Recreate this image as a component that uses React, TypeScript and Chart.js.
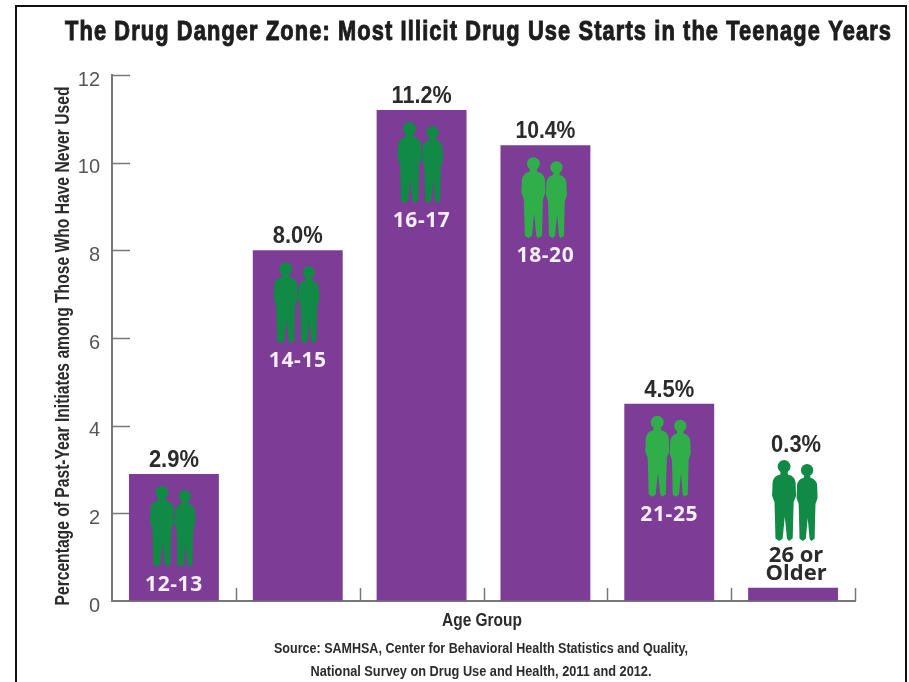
import React, { useEffect, useRef } from "react";
import { Chart, registerables } from "chart.js";
Chart.register(...registerables);

const categories = ["12-13", "14-15", "16-17", "18-20", "21-25", "26 or Older"];
const values = [2.9, 8.0, 11.2, 10.4, 4.5, 0.3];
const valueLabels = ["2.9%", "8.0%", "11.2%", "10.4%", "4.5%", "0.3%"];
const iconColors = ["#108a45", "#108a45", "#108a45", "#2fae4a", "#2fae4a", "#108a45"];
const title = "The Drug Danger Zone: Most Illicit Drug Use Starts in the Teenage Years";
const yTitle = "Percentage of Past-Year Initiates among Those Who Have Never Used";
const xTitle = "Age Group";
const source = ["Source: SAMHSA, Center for Behavioral Health Statistics and Quality,", "National Survey on Drug Use and Health, 2011 and 2012."];
const PURPLE = "#7d3c96";
const AXIS = "#777777";
const INK = "#2b2b2b";
const NARROW = '"Liberation Sans Narrow", "Liberation Sans", sans-serif';
const WIDE = '"Open Sans", "Liberation Sans", sans-serif';

function person(ctx: CanvasRenderingContext2D, cx: number, top: number, w: number, h: number) {
  const X = (v: number) => cx + v * w;
  const Y = (v: number) => top + v * h;
  ctx.beginPath();
  ctx.arc(cx, Y(0.08), h * 0.08, 0, Math.PI * 2);
  ctx.fill();
  ctx.beginPath();
  ctx.moveTo(X(-0.14), Y(0.13));
  ctx.lineTo(X(0.14), Y(0.13));
  ctx.lineTo(X(0.16), Y(0.18));
  ctx.quadraticCurveTo(X(0.45), Y(0.2), X(0.48), Y(0.28));
  ctx.lineTo(X(0.5), Y(0.44));
  ctx.lineTo(X(0.4), Y(0.52));
  ctx.lineTo(X(0.38), Y(0.72));
  ctx.lineTo(X(0.36), Y(0.97));
  ctx.lineTo(X(0.2), Y(1));
  ctx.lineTo(X(0.12), Y(0.97));
  ctx.lineTo(X(0.03), Y(0.7));
  ctx.lineTo(X(-0.06), Y(0.97));
  ctx.lineTo(X(-0.2), Y(1));
  ctx.lineTo(X(-0.36), Y(0.97));
  ctx.lineTo(X(-0.38), Y(0.72));
  ctx.lineTo(X(-0.4), Y(0.52));
  ctx.lineTo(X(-0.5), Y(0.44));
  ctx.lineTo(X(-0.48), Y(0.28));
  ctx.quadraticCurveTo(X(-0.45), Y(0.2), X(-0.16), Y(0.18));
  ctx.closePath();
  ctx.fill();
}

const overlay = {
  id: "overlay",
  beforeDatasetsDraw(chart: any) {
    const { ctx, scales, chartArea } = chart;
    ctx.save();
    ctx.strokeStyle = AXIS;
    ctx.lineWidth = 1.5;
    scales.y.ticks.forEach((t: any) => {
      if (t.value === 0) return;
      const py = Math.round(scales.y.getPixelForValue(t.value)) + 0.5;
      ctx.beginPath();
      ctx.moveTo(chartArea.left, py);
      ctx.lineTo(chartArea.left + 18, py);
      ctx.stroke();
    });
    ctx.restore();
  },
  afterDatasetsDraw(chart: any) {
    const { ctx, chartArea } = chart;
    const meta = chart.getDatasetMeta(0);
    ctx.save();
    ctx.textAlign = "center";
    ctx.textBaseline = "alphabetic";

    // page frame
    ctx.strokeStyle = "#111";
    ctx.lineWidth = 2;
    ctx.beginPath();
    ctx.moveTo(16, 682);
    ctx.lineTo(16, 6);
    ctx.lineTo(906, 6);
    ctx.lineTo(906, 682);
    ctx.stroke();

    // heading
    ctx.fillStyle = "#1d1d1d";
    ctx.strokeStyle = "#1d1d1d";
    ctx.lineWidth = 1;
    ctx.font = `700 27px ${NARROW}`;
    (ctx as any).letterSpacing = "1.4px";
    ctx.fillText(title, 478.5, 40, 827);
    ctx.strokeText(title, 478.5, 40, 827);
    (ctx as any).letterSpacing = "0px";

    // rotated axis title
    ctx.save();
    ctx.translate(69, 346);
    ctx.rotate(-Math.PI / 2);
    ctx.font = `700 20px ${NARROW}`;
    ctx.fillStyle = INK;
    ctx.fillText(yTitle, 0, 0, 519);
    ctx.restore();

    meta.data.forEach((bar: any, i: number) => {
      const x = bar.x;
      const last = i === categories.length - 1;
      const shift = last ? 3 : 0;
      ctx.fillStyle = INK;
      ctx.font = `700 23px ${NARROW}`;
      ctx.fillText(valueLabels[i], x + shift, last ? 452 : bar.y - 7, i === 2 || i === 3 ? 60 : 50);
      const top = last ? 460 : bar.y + 12;
      ctx.fillStyle = iconColors[i];
      person(ctx, x - 12 + shift, top, 24, 81);
      person(ctx, x + 11 + shift, top + 4, 21, 77);
      ctx.font = `700 21px ${WIDE}`;
      if (last) {
        ctx.fillStyle = INK;
        ctx.font = `700 22px ${WIDE}`;
        ctx.fillText("26 or", x + shift, 562);
        ctx.fillText("Older", x + shift, 580);
      } else {
        ctx.fillStyle = "#f4eef6";
        (ctx as any).letterSpacing = "0.6px";
        ctx.fillText(categories[i], x, top + 105);
        (ctx as any).letterSpacing = "0px";
      }
    });

    // separator ticks along the base line
    const step = meta.data[1].x - meta.data[0].x;
    ctx.strokeStyle = AXIS;
    ctx.lineWidth = 1.5;
    for (let i = 1; i <= categories.length; i++) {
      const tx = Math.round(meta.data[0].x - step / 2 + i * step) + 0.5;
      ctx.beginPath();
      ctx.moveTo(tx, chartArea.bottom);
      ctx.lineTo(tx, chartArea.bottom - 13);
      ctx.stroke();
    }

    ctx.fillStyle = INK;
    ctx.font = `700 18px ${NARROW}`;
    ctx.fillText(xTitle, 482, 626, 80);
    ctx.font = `700 14px ${NARROW}`;
    ctx.fillText(source[0], 481, 653, 414);
    ctx.fillText(source[1], 481, 676, 341);
    ctx.restore();
  },
};

export default function App() {
  const ref = useRef<HTMLCanvasElement>(null);
  useEffect(() => {
    const chart = new Chart(ref.current!, {
      type: "bar",
      data: {
        labels: categories,
        datasets: [{ data: values, backgroundColor: PURPLE, categoryPercentage: 1, barPercentage: 0.726 }],
      },
      plugins: [overlay],
      options: {
        animation: false,
        responsive: false,
        layout: { padding: { top: 75, right: 54, bottom: 73, left: 40 } },
        plugins: {
          legend: { display: false },
          tooltip: { enabled: false },
        },
        scales: {
          x: {
            ticks: { display: false },
            grid: { display: false },
            border: { color: AXIS, width: 2 },
          },
          y: {
            min: 0,
            max: 12,
            afterFit: (s: any) => { s.width = 72; },
            ticks: { stepSize: 2, color: "#555", font: { family: '"Liberation Sans", sans-serif', size: 20 }, padding: 12, labelOffset: 5 },
            grid: { drawOnChartArea: false, drawTicks: false },
            border: { color: AXIS, width: 2 },
          },
        },
      },
    });
    return () => chart.destroy();
  }, []);
  return (
    <div style={{ position: "absolute", left: 0, top: 0, width: 909, height: 682, background: "#fff" }}>
      <canvas ref={ref} width={909} height={682} style={{ display: "block", filter: "blur(0.5px)" }} />
    </div>
  );
}
